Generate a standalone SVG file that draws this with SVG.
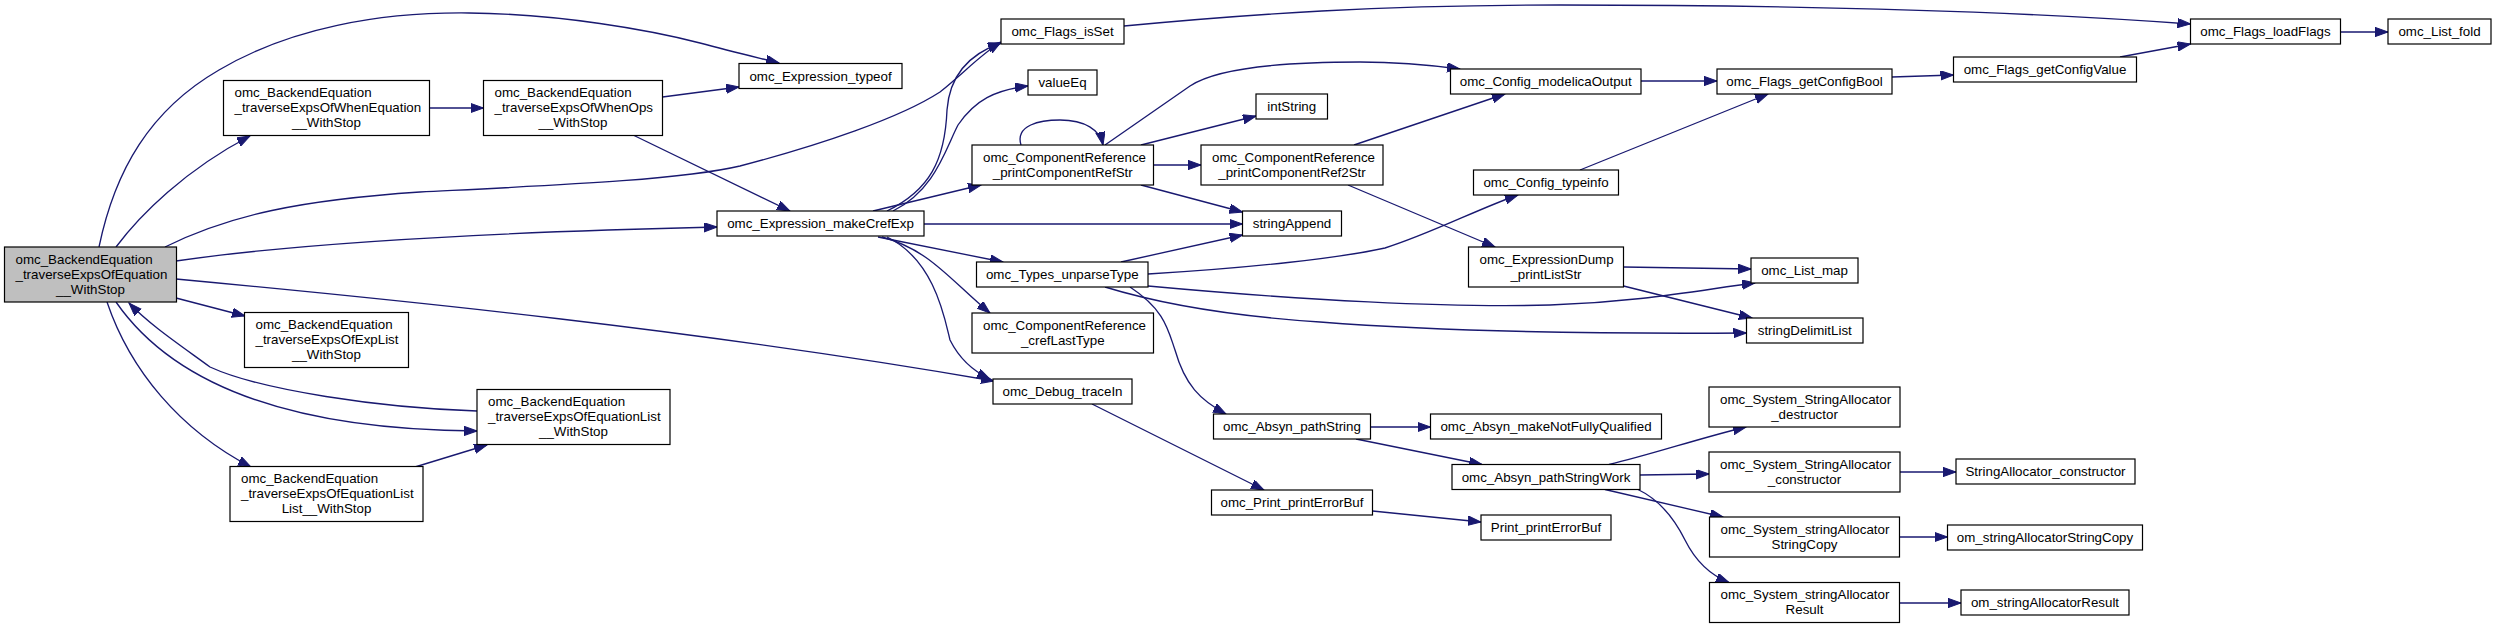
<svg xmlns="http://www.w3.org/2000/svg" width="2496" height="629" viewBox="0 0 2496 629">
<style>
.n rect{fill:#fff;stroke:#000;stroke-width:1.2}
.root rect{fill:#bfbfbf}
.n text{font-family:"Liberation Sans",Arial,sans-serif;font-size:13.33px;fill:#000}
.c{text-anchor:middle}
.e path{fill:none;stroke:#191970;stroke-width:1.33;marker-end:url(#ah)}
</style>
<defs>
<marker id="ah" markerUnits="userSpaceOnUse" markerWidth="14" markerHeight="10" refX="13" refY="4.65" orient="auto" viewBox="0 0 14 10">
<path d="M0,0 L13,4.65 L0,9.3 z" fill="#191970" stroke="#191970" stroke-width="1"/>
</marker>
</defs>
<rect width="2496" height="629" fill="#fff"/>
<g id="connectors" class="e">
<path d="M99,247 C115,170 150,110 219,70 C290,28 380,12 469,13 C560,14 650,30 700,43 C730,51 755,57 779,63"/>
<path d="M116,247 C140,215 185,170 250,136"/>
<path d="M165,247 C230,215 300,200 420,192 C560,185 680,180 740,166 C820,145 900,118 940,92 C965,72 980,55 1001,42"/>
<path d="M176,261 C300,243 500,232 717,227"/>
<path d="M176,279 C400,300 700,330 994,381"/>
<path d="M176,298 L245,316"/>
<path d="M107,302 C130,370 180,430 251,467"/>
<path d="M116,302 C170,380 280,430 477,431"/>
<path d="M477,411 C380,408 260,390 210,367 C180,345 150,325 129,303"/>
<path d="M415,467 L487,445"/>
<path d="M429.5,108 L483.5,108"/>
<path d="M662.5,97 L739,87"/>
<path d="M633,135 L790,211"/>
<path d="M887,211 C930,190 945,160 947,110 C950,70 975,52 1001,43"/>
<path d="M893,211 C935,190 945,150 958,125 C975,100 995,90 1028,86"/>
<path d="M873,211 L981,185"/>
<path d="M924,224 L1242.5,224"/>
<path d="M878,237 L1003,262"/>
<path d="M882,237 C930,250 950,280 990,313"/>
<path d="M887,237 C935,260 945,320 950,340 C960,360 975,372 990,379"/>
<path d="M1021,145 C1015,125 1040,120 1060,120 C1085,120 1100,130 1103,145"/>
<path d="M1105,145 L1190,86 C1220,66 1300,62 1360,62 C1400,62 1430,65 1460,69"/>
<path d="M1141,145 L1256,116"/>
<path d="M1153.5,165 L1201,165"/>
<path d="M1141,185 L1242.5,212"/>
<path d="M1121,262 L1242.5,235"/>
<path d="M1148,274 C1250,268 1340,258 1385,248 C1430,234 1480,208 1518,195"/>
<path d="M1148,286 C1300,300 1450,308 1550,305 C1640,302 1700,290 1755,283"/>
<path d="M1105,287 C1180,310 1260,318 1320,322 C1450,332 1600,334 1746.5,333"/>
<path d="M1130,287 C1165,310 1168,330 1175,350 C1185,385 1200,400 1226,414"/>
<path d="M1641,81 L1717,81"/>
<path d="M1354,145 L1505,94"/>
<path d="M1348,185 L1495,247"/>
<path d="M1580,170 L1768,94"/>
<path d="M1892,77 L1953.5,75"/>
<path d="M1623.5,267 L1751,269"/>
<path d="M1623.5,286 L1752,318"/>
<path d="M1124,26 C1250,14 1380,5 1560,5 C1800,5 2000,10 2190.5,24"/>
<path d="M2120,57 L2190.5,44"/>
<path d="M2340.5,32 L2388,32"/>
<path d="M1092,404 L1264,490"/>
<path d="M1372.5,511 L1481,522"/>
<path d="M1370.5,427 L1430.5,427"/>
<path d="M1356,439 L1482,464.5"/>
<path d="M1609,464.5 C1650,455 1700,438 1746,427"/>
<path d="M1640,475 L1709,474"/>
<path d="M1605,489.5 L1723,517"/>
<path d="M1638,489.5 C1660,500 1675,520 1685,540 C1695,560 1710,575 1729,582.5"/>
<path d="M1900,472 L1956,472"/>
<path d="M1899.5,537 L1947.5,537"/>
<path d="M1899.5,603 L1961,603"/>
</g>
<g id="n_root" class="n root"><rect x="4.5" y="247" width="172" height="55"/><text x="15.5" y="263.8">omc_BackendEquation</text><text x="15.5" y="278.8">_traverseExpsOfEquation</text><text x="90.5" y="293.8" class="c">__WithStop</text></g>
<g id="n_wheneq" class="n"><rect x="223.5" y="80.5" width="206" height="55"/><text x="234.5" y="97.3">omc_BackendEquation</text><text x="234.5" y="112.3">_traverseExpsOfWhenEquation</text><text x="326.5" y="127.3" class="c">__WithStop</text></g>
<g id="n_whenops" class="n"><rect x="483.5" y="80.5" width="179" height="55"/><text x="494.5" y="97.3">omc_BackendEquation</text><text x="494.5" y="112.3">_traverseExpsOfWhenOps</text><text x="573" y="127.3" class="c">__WithStop</text></g>
<g id="n_explist" class="n"><rect x="244.5" y="312.5" width="164" height="55"/><text x="255.5" y="329.3">omc_BackendEquation</text><text x="255.5" y="344.3">_traverseExpsOfExpList</text><text x="326.5" y="359.3" class="c">__WithStop</text></g>
<g id="n_eqlist" class="n"><rect x="477" y="389.5" width="193" height="55"/><text x="488" y="406.3">omc_BackendEquation</text><text x="488" y="421.3">_traverseExpsOfEquationList</text><text x="573.5" y="436.3" class="c">__WithStop</text></g>
<g id="n_eqlistlist" class="n"><rect x="230" y="466.5" width="193" height="55"/><text x="241" y="483.3">omc_BackendEquation</text><text x="241" y="498.3">_traverseExpsOfEquationList</text><text x="326.5" y="513.3" class="c">List__WithStop</text></g>
<g id="n_typeof" class="n"><rect x="739" y="63.5" width="163" height="25"/><text x="820.5" y="80.5" class="c">omc_Expression_typeof</text></g>
<g id="n_makecref" class="n"><rect x="717" y="211" width="207" height="25"/><text x="820.5" y="228" class="c">omc_Expression_makeCrefExp</text></g>
<g id="n_isset" class="n"><rect x="1001" y="19" width="123" height="25"/><text x="1062.5" y="36" class="c">omc_Flags_isSet</text></g>
<g id="n_valueeq" class="n"><rect x="1028" y="70" width="69" height="25"/><text x="1062.5" y="87" class="c">valueEq</text></g>
<g id="n_printcrstr" class="n"><rect x="972" y="145" width="181.5" height="40"/><text x="983" y="161.8">omc_ComponentReference</text><text x="1062.75" y="176.8" class="c">_printComponentRefStr</text></g>
<g id="n_unparse" class="n"><rect x="976.5" y="262" width="171.5" height="25"/><text x="1062.25" y="279" class="c">omc_Types_unparseType</text></g>
<g id="n_creflast" class="n"><rect x="972" y="313" width="181.5" height="40"/><text x="983" y="329.8">omc_ComponentReference</text><text x="1062.75" y="344.8" class="c">_crefLastType</text></g>
<g id="n_tracein" class="n"><rect x="993" y="379" width="139" height="25"/><text x="1062.5" y="396" class="c">omc_Debug_traceIn</text></g>
<g id="n_intstring" class="n"><rect x="1256" y="94" width="71.5" height="25"/><text x="1291.75" y="111" class="c">intString</text></g>
<g id="n_printcref2" class="n"><rect x="1201" y="145" width="182" height="40"/><text x="1212" y="161.8">omc_ComponentReference</text><text x="1292" y="176.8" class="c">_printComponentRef2Str</text></g>
<g id="n_stringappend" class="n"><rect x="1242.5" y="211" width="99" height="25"/><text x="1292" y="228" class="c">stringAppend</text></g>
<g id="n_pathstring" class="n"><rect x="1213.5" y="414" width="157" height="25"/><text x="1292" y="431" class="c">omc_Absyn_pathString</text></g>
<g id="n_omcprinterr" class="n"><rect x="1211.5" y="490" width="161" height="25"/><text x="1292" y="507" class="c">omc_Print_printErrorBuf</text></g>
<g id="n_modelicaout" class="n"><rect x="1450.5" y="69" width="190.5" height="25"/><text x="1545.75" y="86" class="c">omc_Config_modelicaOutput</text></g>
<g id="n_typeinfo" class="n"><rect x="1473.5" y="170" width="145" height="25"/><text x="1546" y="187" class="c">omc_Config_typeinfo</text></g>
<g id="n_printliststr" class="n"><rect x="1468.5" y="247" width="155" height="40"/><text x="1479.5" y="263.8">omc_ExpressionDump</text><text x="1546" y="278.8" class="c">_printListStr</text></g>
<g id="n_makenfq" class="n"><rect x="1430.5" y="414" width="231" height="25"/><text x="1546" y="431" class="c">omc_Absyn_makeNotFullyQualified</text></g>
<g id="n_pathwork" class="n"><rect x="1452" y="464.5" width="188" height="25"/><text x="1546" y="481.5" class="c">omc_Absyn_pathStringWork</text></g>
<g id="n_printerr" class="n"><rect x="1481" y="515" width="130" height="25"/><text x="1546" y="532" class="c">Print_printErrorBuf</text></g>
<g id="n_getconfigbool" class="n"><rect x="1717" y="69" width="175" height="25"/><text x="1804.5" y="86" class="c">omc_Flags_getConfigBool</text></g>
<g id="n_listmap" class="n"><rect x="1751" y="258" width="107" height="25"/><text x="1804.5" y="275" class="c">omc_List_map</text></g>
<g id="n_strdelim" class="n"><rect x="1746.5" y="318" width="116.5" height="25"/><text x="1804.75" y="335" class="c">stringDelimitList</text></g>
<g id="n_destructor" class="n"><rect x="1709" y="387" width="191" height="40"/><text x="1720" y="403.8">omc_System_StringAllocator</text><text x="1804.5" y="418.8" class="c">_destructor</text></g>
<g id="n_constructor" class="n"><rect x="1709" y="452" width="191" height="40"/><text x="1720" y="468.8">omc_System_StringAllocator</text><text x="1804.5" y="483.8" class="c">_constructor</text></g>
<g id="n_strcopy" class="n"><rect x="1709.5" y="517" width="190" height="40"/><text x="1720.5" y="533.8">omc_System_stringAllocator</text><text x="1804.5" y="548.8" class="c">StringCopy</text></g>
<g id="n_result" class="n"><rect x="1709.5" y="582.5" width="190" height="40"/><text x="1720.5" y="599.3">omc_System_stringAllocator</text><text x="1804.5" y="614.3" class="c">Result</text></g>
<g id="n_getconfigvalue" class="n"><rect x="1953.5" y="57" width="183" height="25"/><text x="2045" y="74" class="c">omc_Flags_getConfigValue</text></g>
<g id="n_loadflags" class="n"><rect x="2190.5" y="19" width="150" height="25"/><text x="2265.5" y="36" class="c">omc_Flags_loadFlags</text></g>
<g id="n_listfold" class="n"><rect x="2388" y="19" width="103" height="25"/><text x="2439.5" y="36" class="c">omc_List_fold</text></g>
<g id="n_saconstructor" class="n"><rect x="1956" y="459" width="179" height="25"/><text x="2045.5" y="476" class="c">StringAllocator_constructor</text></g>
<g id="n_omstrcopy" class="n"><rect x="1947.5" y="525" width="195" height="25"/><text x="2045" y="542" class="c">om_stringAllocatorStringCopy</text></g>
<g id="n_omresult" class="n"><rect x="1961" y="590" width="168" height="25"/><text x="2045" y="607" class="c">om_stringAllocatorResult</text></g>
</svg>
